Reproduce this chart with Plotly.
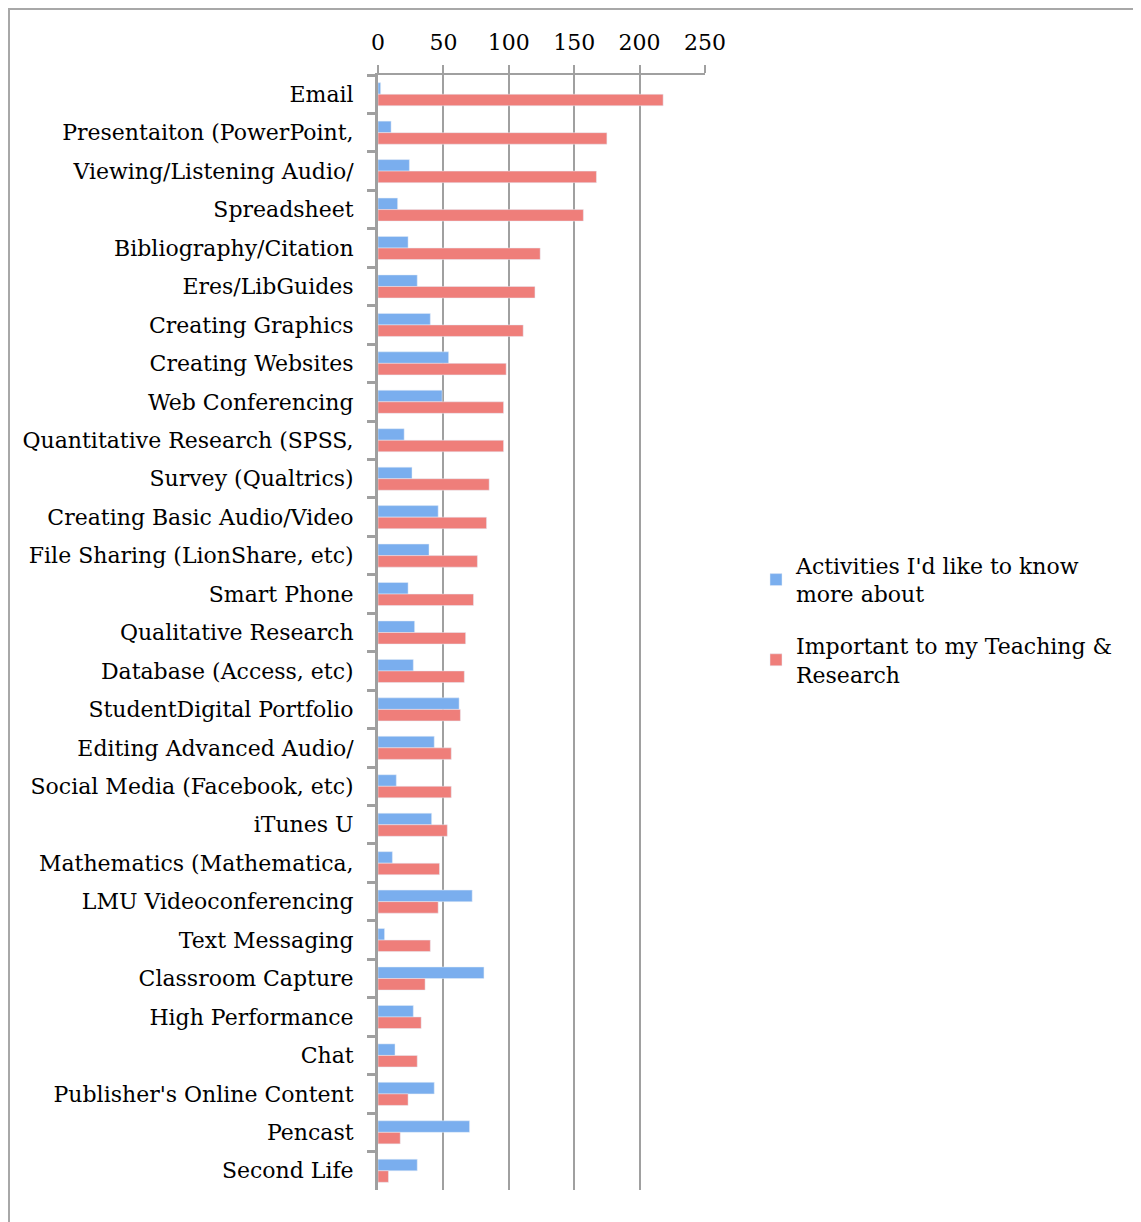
import plotly.graph_objects as go

categories = [
    "Email", "Presentaiton (PowerPoint,", "Viewing/Listening Audio/", "Spreadsheet",
    "Bibliography/Citation", "Eres/LibGuides", "Creating Graphics", "Creating Websites",
    "Web Conferencing", "Quantitative Research (SPSS,", "Survey (Qualtrics)",
    "Creating Basic Audio/Video", "File Sharing (LionShare, etc)", "Smart Phone",
    "Qualitative Research", "Database (Access, etc)", "StudentDigital Portfolio",
    "Editing Advanced Audio/", "Social Media (Facebook, etc)", "iTunes U",
    "Mathematics (Mathematica,", "LMU Videoconferencing", "Text Messaging",
    "Classroom Capture", "High Performance", "Chat", "Publisher's Online Content",
    "Pencast", "Second Life",
]
know_more = [2, 10, 24, 15, 23, 30, 40, 54, 49, 20, 26, 46, 39, 23, 28,
             27, 62, 43, 14, 41, 11, 72, 5, 81, 27, 13, 43, 70, 30]
important = [218, 175, 167, 157, 124, 120, 111, 98, 96, 96, 85, 83, 76, 73, 67,
             66, 63, 56, 56, 53, 47, 46, 40, 36, 33, 30, 23, 17, 8]
series_names = ["Activities I'd like to know<br>more about",
                "Important to my Teaching &<br>Research"]
x_ticks = [0, 50, 100, 150, 200, 250]

FONT = "DejaVu Serif"
GRID = "#a0a0a0"

# page has an 8px body margin; work in figure coordinates
OFF = 8
W, H = 1141 - OFF, 1222 - OFF
L = 378 - OFF
T = 75 - OFF
R = W - (705 - OFF)
B = H - (1190 - OFF)
pw, ph = W - L - R, H - T - B

def px_x(p):  # page pixel -> paper x
    return (p - OFF - L) / pw

def px_y(p):  # page pixel -> paper y
    return (H - B - (p - OFF)) / ph

fig = go.Figure()
fig.add_trace(go.Bar(y=categories, x=know_more, orientation="h", name=series_names[0],
                     marker=dict(color="#7aaeee"), legendgroup="a"))
fig.add_trace(go.Bar(y=categories, x=important, orientation="h", name=series_names[1],
                     marker=dict(color="#ef7e7a"), legendgroup="b"))

fig.update_layout(
    width=W, height=H,
    margin=dict(l=L, r=R, t=T, b=B, pad=0),
    paper_bgcolor="white", plot_bgcolor="white",
    font=dict(family=FONT, size=22, color="black"),
    barmode="group", bargap=0.4, bargroupgap=0.0,
    showlegend=True,
    legend=dict(x=px_x(756), y=px_y(620), xanchor="left", yanchor="middle",
                font=dict(family=FONT, size=22, color="black"),
                traceorder="grouped", tracegroupgap=20, bgcolor="rgba(0,0,0,0)"),
    xaxis=dict(side="top", range=[0, 250], tickvals=x_ticks,
               showgrid=True, gridcolor=GRID, gridwidth=2,
               showline=True, linecolor=GRID, linewidth=2,
               ticks="outside", ticklen=8, tickcolor=GRID, tickwidth=2,
               zeroline=False, ticklabelstandoff=6, fixedrange=True),
    yaxis=dict(autorange="reversed", type="category", showline=True, linecolor=GRID,
               linewidth=3, ticks="outside", ticklen=8, tickcolor=GRID, tickwidth=3,
               tickson="boundaries", showgrid=False, ticklabelstandoff=17),
    shapes=[dict(type="rect", xref="paper", yref="paper",
                 x0=px_x(OFF + 1), x1=px_x(1160), y0=px_y(1240), y1=px_y(OFF + 1),
                 line=dict(color="#a8a8a8", width=2), fillcolor="rgba(0,0,0,0)",
                 layer="below")],
)

fig.write_html("out.html")
